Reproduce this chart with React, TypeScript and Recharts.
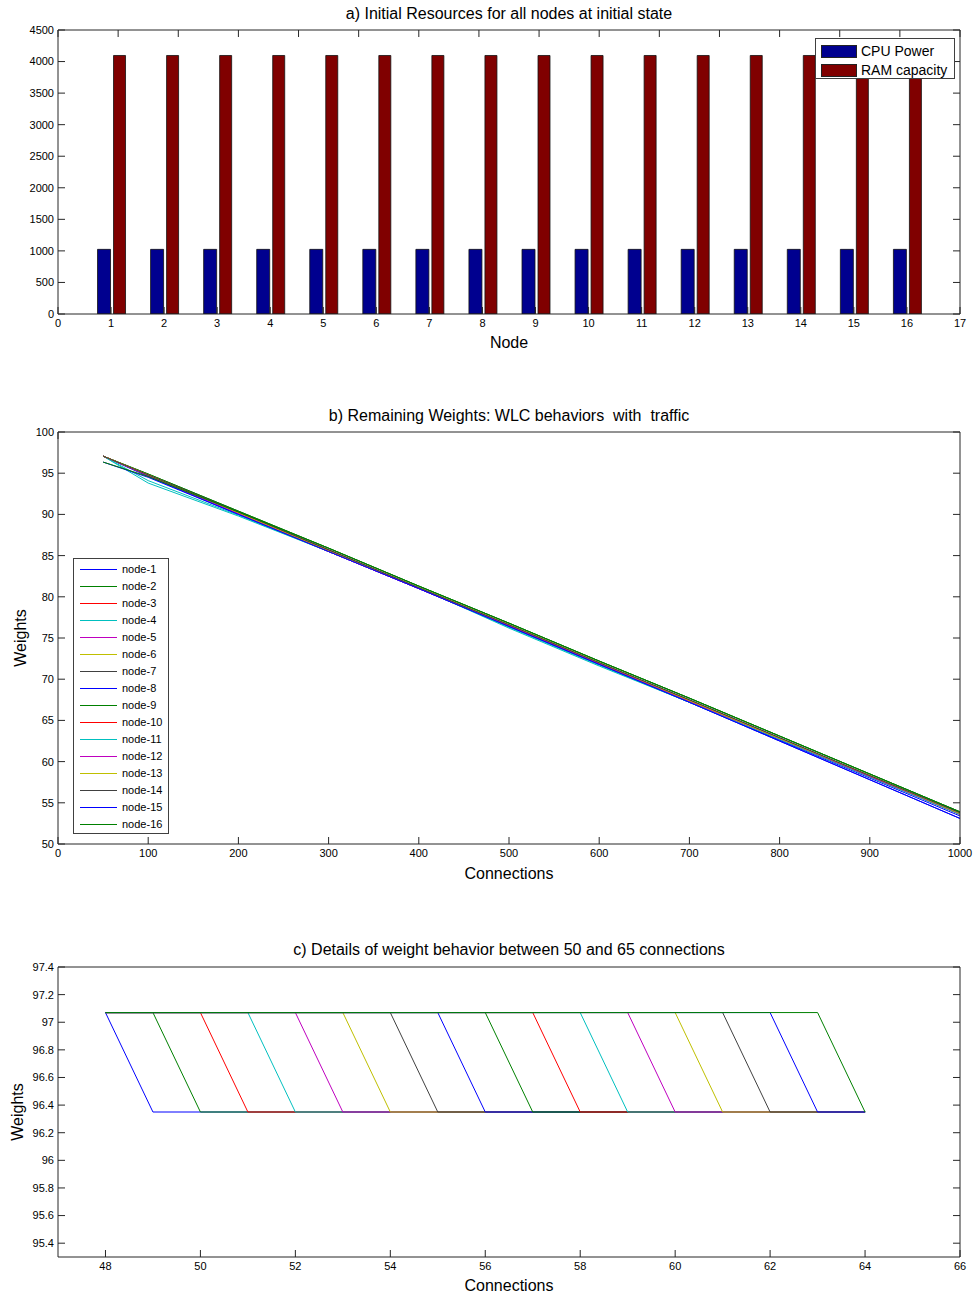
import React from 'react';
import { BarChart, Bar, LineChart, Line, XAxis, YAxis, Legend } from 'recharts';

const FONT = '"Liberation Sans", Arial, Helvetica, sans-serif';

// ---------- Panel a: initial resources ----------
const nodeIds = [1, 2, 3, 4, 5, 6, 7, 8, 9, 10, 11, 12, 13, 14, 15, 16];
const cpuPower = [1024, 1024, 1024, 1024, 1024, 1024, 1024, 1024, 1024, 1024, 1024, 1024, 1024, 1024, 1024, 1024];
const ramCapacity = [4096, 4096, 4096, 4096, 4096, 4096, 4096, 4096, 4096, 4096, 4096, 4096, 4096, 4096, 4096, 4096];
const nodeAxisTicks = [0, 1, 2, 3, 4, 5, 6, 7, 8, 9, 10, 11, 12, 13, 14, 15, 16, 17];
const resourceTicks = [0, 500, 1000, 1500, 2000, 2500, 3000, 3500, 4000, 4500];
const resourceSeries = [
  { key: 'cpu', name: 'CPU Power', color: '#00008F' },
  { key: 'ram', name: 'RAM capacity', color: '#800000' },
];

// ---------- Panel b: remaining weights ----------
const connections = [50, 100, 200, 300, 400, 500, 600, 700, 800, 900, 1000];
const node1 = [97.07, 94.6, 90.0, 85.5, 81.0, 76.4, 71.8, 67.2, 62.5, 57.8, 53.1];
const node2 = [97.07, 94.9, 90.4, 85.9, 81.3, 76.8, 72.2, 67.7, 63.1, 58.5, 53.9];
const node3 = [97.07, 94.8, 90.2, 85.7, 81.1, 76.6, 72.0, 67.4, 62.8, 58.2, 53.6];
const node4 = [97.07, 93.8, 89.8, 85.5, 81.1, 76.2, 71.6, 67.2, 62.7, 58.2, 53.6];
const node5 = [97.07, 94.7, 90.1, 85.5, 81.0, 76.5, 71.9, 67.3, 62.7, 58.2, 53.7];
const node6 = [97.07, 94.8, 90.2, 85.6, 81.1, 76.6, 72.0, 67.4, 62.8, 58.3, 53.7];
const node7 = [97.07, 94.8, 90.3, 85.7, 81.1, 76.6, 72.0, 67.5, 62.9, 58.3, 53.8];
const node8 = [97.07, 94.7, 90.1, 85.5, 81.0, 76.4, 71.8, 67.2, 62.6, 58.0, 53.4];
const node9 = [97.07, 94.9, 90.4, 85.9, 81.3, 76.8, 72.2, 67.7, 63.1, 58.5, 53.9];
const node10 = [97.07, 94.8, 90.2, 85.6, 81.1, 76.5, 71.9, 67.4, 62.8, 58.2, 53.6];
const node11 = [97.07, 94.1, 89.9, 85.5, 81.1, 76.3, 71.7, 67.2, 62.7, 58.1, 53.6];
const node12 = [97.07, 94.7, 90.1, 85.5, 81.0, 76.5, 71.9, 67.3, 62.8, 58.2, 53.7];
const node13 = [97.07, 94.8, 90.2, 85.6, 81.1, 76.6, 72.0, 67.4, 62.8, 58.3, 53.7];
const node14 = [97.07, 94.8, 90.3, 85.7, 81.1, 76.6, 72.0, 67.5, 62.9, 58.3, 53.8];
const node15 = [96.35, 94.5, 90.0, 85.5, 81.0, 76.4, 71.8, 67.2, 62.5, 57.8, 53.1];
const node16 = [96.35, 94.6, 90.3, 85.9, 81.3, 76.8, 72.2, 67.7, 63.1, 58.5, 53.9];
const weightSeries = [node1, node2, node3, node4, node5, node6, node7, node8, node9, node10, node11, node12, node13, node14, node15, node16];
const nodeNames = ['node-1', 'node-2', 'node-3', 'node-4', 'node-5', 'node-6', 'node-7', 'node-8', 'node-9', 'node-10', 'node-11', 'node-12', 'node-13', 'node-14', 'node-15', 'node-16'];
const nodeColors = ['#0000FF', '#008000', '#FF0000', '#00BFBF', '#BF00BF', '#BFBF00', '#404040', '#0000FF', '#008000', '#FF0000', '#00BFBF', '#BF00BF', '#BFBF00', '#404040', '#0000FF', '#008000'];
const connTicks = [0, 100, 200, 300, 400, 500, 600, 700, 800, 900, 1000];
const weightTicks = [50, 55, 60, 65, 70, 75, 80, 85, 90, 95, 100];

// ---------- Panel c: detail between 50 and 65 connections ----------
const detailStart = 48;
const detailEnd = 64;
const detailDropAt = [48, 49, 50, 51, 52, 53, 54, 55, 56, 57, 58, 59, 60, 61, 62, 63];
const detailHigh = 97.07;
const detailLow = 96.35;
const detailXTicks = [48, 50, 52, 54, 56, 58, 60, 62, 64, 66];
const detailYTicks = [95.4, 95.6, 95.8, 96.0, 96.2, 96.4, 96.6, 96.8, 97.0, 97.2, 97.4];

// ---------- derived tables ----------
const resourceData = nodeIds.map((n, i) => ({ node: n, cpu: cpuPower[i], ram: ramCapacity[i] }));
const weightData = connections.map((c, j) => {
  const row: Record<string, number> = { x: c };
  weightSeries.forEach((s, i) => { row['n' + (i + 1)] = s[j]; });
  return row;
});
const detailData = detailDropAt.map((d) => [
  { x: detailStart, y: detailHigh },
  { x: d, y: detailHigh },
  { x: d + 1, y: detailLow },
  { x: detailEnd, y: detailLow },
]);

const AXIS_COLOR = '#262626';
const tickStyle = { fontSize: 11, fill: '#000', fontFamily: FONT };
const NoLabel = () => <g />;
const bottomAxis = { tickSize: -7, tickMargin: 12, stroke: AXIS_COLOR, tick: tickStyle, allowDataOverflow: true, interval: 0 as const };
const leftAxis = { tickSize: -7, tickMargin: 11, stroke: AXIS_COLOR, tick: tickStyle, allowDataOverflow: true, interval: 0 as const, width: 58 };
const boxAxis = { tickSize: -7, stroke: AXIS_COLOR, tick: NoLabel, allowDataOverflow: true, interval: 0 as const };

const labelStyle = { fontSize: 16, fill: '#000', fontFamily: FONT };

const Title = ({ top, text }: { top: number; text: string }) => (
  <div
    style={{
      position: 'absolute', left: 58, width: 902, top, textAlign: 'center',
      fontFamily: FONT, fontSize: 16, lineHeight: '20px', color: '#000', whiteSpace: 'pre',
    }}
  >
    {text}
  </div>
);

const ResourceLegend = () => (
  <div style={{ width: 140, height: 41, border: '1px solid #404040', background: '#fff', boxSizing: 'border-box', fontFamily: FONT, fontSize: 14, color: '#000', padding: '3px 0 0 5px' }}>
    {resourceSeries.map((s) => (
      <div key={s.key} style={{ display: 'flex', alignItems: 'center', height: 18, marginBottom: 1 }}>
        <div style={{ width: 36, height: 13, background: s.color, border: '1px solid #222', boxSizing: 'border-box', marginRight: 4 }} />
        <span style={{ lineHeight: '16px' }}>{s.name}</span>
      </div>
    ))}
  </div>
);

const WeightLegend = () => (
  <div style={{ width: 96, height: 276, border: '1px solid #404040', background: '#fff', boxSizing: 'border-box', fontFamily: FONT, fontSize: 11, color: '#000', paddingTop: 2 }}>
    {nodeNames.map((n, i) => (
      <div key={n} style={{ display: 'flex', alignItems: 'center', height: 17 }}>
        <svg width={37} height={3} style={{ marginLeft: 6, marginRight: 5, display: 'block' }}>
          <line x1={0} y1={1.5} x2={37} y2={1.5} stroke={nodeColors[i]} strokeWidth={1} />
        </svg>
        <span style={{ lineHeight: '13px' }}>{n}</span>
      </div>
    ))}
  </div>
);

export default function App() {
  return (
    <div style={{ position: 'absolute', left: 0, top: 0, width: 973, height: 1297, background: '#fff', overflow: 'hidden' }}>
      <Title top={4} text="a) Initial Resources for all nodes at initial state" />
      <div style={{ position: 'absolute', left: 0, top: 0 }}>
        <BarChart width={973} height={360} data={resourceData} margin={{ top: 29, right: 12, bottom: 0, left: 0 }} barGap={3}>
          <XAxis xAxisId="b" dataKey="node" type="number" domain={[0, 17]} ticks={nodeAxisTicks} height={46} {...bottomAxis}
            label={{ value: 'Node', position: 'insideBottom', offset: 12, style: labelStyle }} />
          <XAxis xAxisId="t" orientation="top" type="number" domain={[0, 17]} ticks={nodeAxisTicks} height={1} {...boxAxis} />
          <YAxis yAxisId="l" type="number" domain={[0, 4500]} ticks={resourceTicks} {...leftAxis} />
          <YAxis yAxisId="r" orientation="right" type="number" domain={[0, 4500]} ticks={resourceTicks} width={1} {...boxAxis} />
          <Bar xAxisId="b" yAxisId="l" dataKey="cpu" name="CPU Power" fill={resourceSeries[0].color} stroke="#111" strokeWidth={0.8} barSize={13} isAnimationActive={false} />
          <Bar xAxisId="b" yAxisId="l" dataKey="ram" name="RAM capacity" fill={resourceSeries[1].color} stroke="#111" strokeWidth={0.8} barSize={12} isAnimationActive={false} />
          <Legend layout="horizontal" verticalAlign="middle" align="center" content={() => <ResourceLegend />}
            wrapperStyle={{ left: 815, top: 38, width: 140, height: 41 }} />
        </BarChart>
      </div>

      <Title top={406} text="b) Remaining Weights: WLC behaviors  with  traffic" />
      <div style={{ position: 'absolute', left: 0, top: 400 }}>
        <LineChart width={973} height={490} data={weightData} margin={{ top: 31, right: 12, bottom: 0, left: 0 }}>
          <XAxis xAxisId="b" dataKey="x" type="number" domain={[0, 1000]} ticks={connTicks} height={46} {...bottomAxis}
            label={{ value: 'Connections', position: 'insideBottom', offset: 11, style: labelStyle }} />
          <XAxis xAxisId="t" orientation="top" type="number" domain={[0, 1000]} ticks={connTicks} height={1} {...boxAxis} />
          <YAxis yAxisId="l" type="number" domain={[50, 100]} ticks={weightTicks} {...leftAxis}
            label={{ value: 'Weights', angle: -90, position: 'insideLeft', offset: 20, style: { ...labelStyle, textAnchor: 'middle' } }} />
          <YAxis yAxisId="r" orientation="right" type="number" domain={[50, 100]} ticks={weightTicks} width={1} {...boxAxis} />
          {nodeNames.map((n, i) => (
            <Line key={n} xAxisId="b" yAxisId="l" dataKey={'n' + (i + 1)} name={n} stroke={nodeColors[i]} strokeWidth={1}
              dot={false} type="linear" isAnimationActive={false} />
          ))}
          <Legend layout="horizontal" verticalAlign="middle" align="center" content={() => <WeightLegend />}
            wrapperStyle={{ left: 73, top: 158, width: 96, height: 276 }} />
        </LineChart>
      </div>

      <Title top={940} text="c) Details of weight behavior between 50 and 65 connections" />
      <div style={{ position: 'absolute', left: 0, top: 935 }}>
        <LineChart width={973} height={362} margin={{ top: 31, right: 12, bottom: 0, left: 0 }}>
          <XAxis xAxisId="b" dataKey="x" type="number" domain={[47, 66]} ticks={detailXTicks} height={40} {...bottomAxis}
            label={{ value: 'Connections', position: 'insideBottom', offset: 6, style: labelStyle }} />
          <XAxis xAxisId="t" orientation="top" type="number" domain={[47, 66]} ticks={detailXTicks} height={1} {...boxAxis} />
          <YAxis yAxisId="l" type="number" domain={[95.3, 97.4]} ticks={detailYTicks} {...leftAxis}
            tickFormatter={(v: number) => String(Math.round(v * 10) / 10)}
            label={{ value: 'Weights', angle: -90, position: 'insideLeft', offset: 17, style: { ...labelStyle, textAnchor: 'middle' } }} />
          <YAxis yAxisId="r" orientation="right" type="number" domain={[95.3, 97.4]} ticks={detailYTicks} width={1} {...boxAxis} />
          {detailData.map((d, i) => (
            <Line key={nodeNames[i]} xAxisId="b" yAxisId="l" data={d} dataKey="y" name={nodeNames[i]} stroke={nodeColors[i]}
              strokeWidth={1} dot={false} type="linear" isAnimationActive={false} />
          ))}
        </LineChart>
      </div>
    </div>
  );
}
